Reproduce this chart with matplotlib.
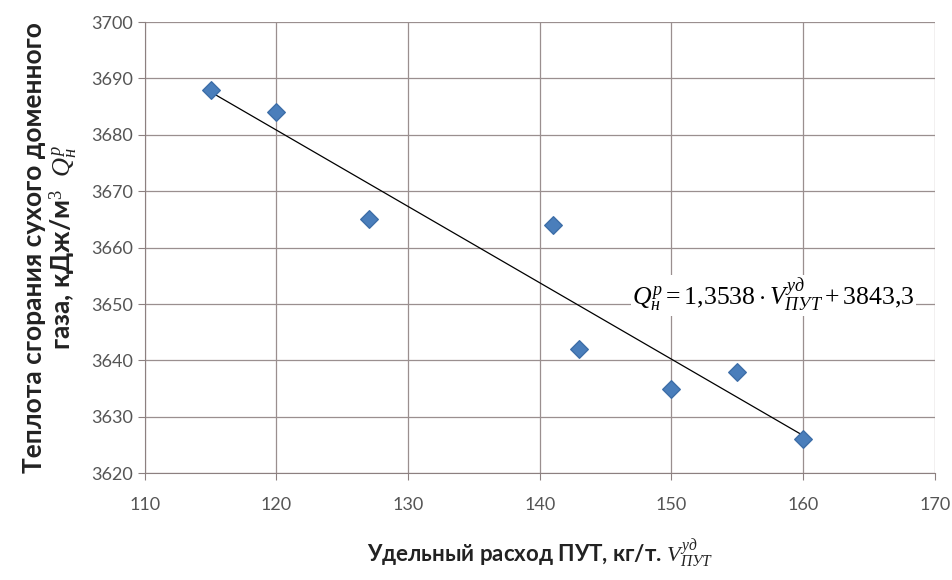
import numpy as np
import matplotlib
matplotlib.use("Agg")
import matplotlib.pyplot as plt

# данные: удельный расход ПУТ и теплота сгорания
rashod = [115, 120, 127, 141, 143, 150, 155, 160]
teplota = [3688, 3684, 3665, 3664, 3642, 3635, 3638, 3626]

x_ticks = [110, 120, 130, 140, 150, 160, 170]
y_ticks = [3620, 3630, 3640, 3650, 3660, 3670, 3680, 3690, 3700]

slope = -1.3538
intercept = 3843.3

plt.rcParams['font.family'] = ['Lato', 'DejaVu Sans']
plt.rcParams['mathtext.fontset'] = 'custom'
plt.rcParams['mathtext.rm'] = 'Liberation Serif'
plt.rcParams['mathtext.it'] = 'Liberation Serif:italic'

fig = plt.figure(figsize=(9.52, 5.80), dpi=100)
ax = fig.add_axes([0.152, 0.184, 0.830, 0.778])

ax.set_xlim(110, 170)
ax.set_ylim(3620, 3700)
ax.set_xticks(x_ticks)
ax.set_yticks(y_ticks)
ax.grid(True, color='#9a8f8f', linewidth=0.9)
ax.set_axisbelow(True)

for s in ['top', 'right']:
    ax.spines[s].set_visible(False)
for s in ['left', 'bottom']:
    ax.spines[s].set_color('#8c8080')

ax.tick_params(axis='both', colors='#8c8080', labelcolor='#555555', labelsize=13, length=5)
ax.tick_params(axis='x', pad=12)

# линия тренда
xl = np.array([rashod[0], rashod[-1]])
ax.plot(xl, slope * xl + intercept, color='black', linewidth=0.9, zorder=2)

ax.scatter(rashod, teplota, marker='D', s=80, color='#4a7ebb', edgecolors='#3d6ea8', zorder=3)

ax.text(147.0, 3651.5, r'$Q_{н}^{p} = 1{,}3538\cdot V_{ПУТ}^{уд} + 3843{,}3$',
        fontsize=18.5, ha='left', va='center', zorder=4,
        bbox=dict(facecolor='white', edgecolor='none', pad=1))

ax.set_ylabel('Теплота сгорания сухого доменного\nгаза, кДж/м$^3$  $Q_{н}^{p}$',
              fontsize=19, fontweight='bold', color='#222222', labelpad=8,
              linespacing=1.05)
ax.set_xlabel('Удельный расход ПУТ, кг/т. $V_{ПУТ}^{уд}$',
              fontsize=16, fontweight='bold', color='#222222', labelpad=18)

fig.savefig('out.png', dpi=100)
